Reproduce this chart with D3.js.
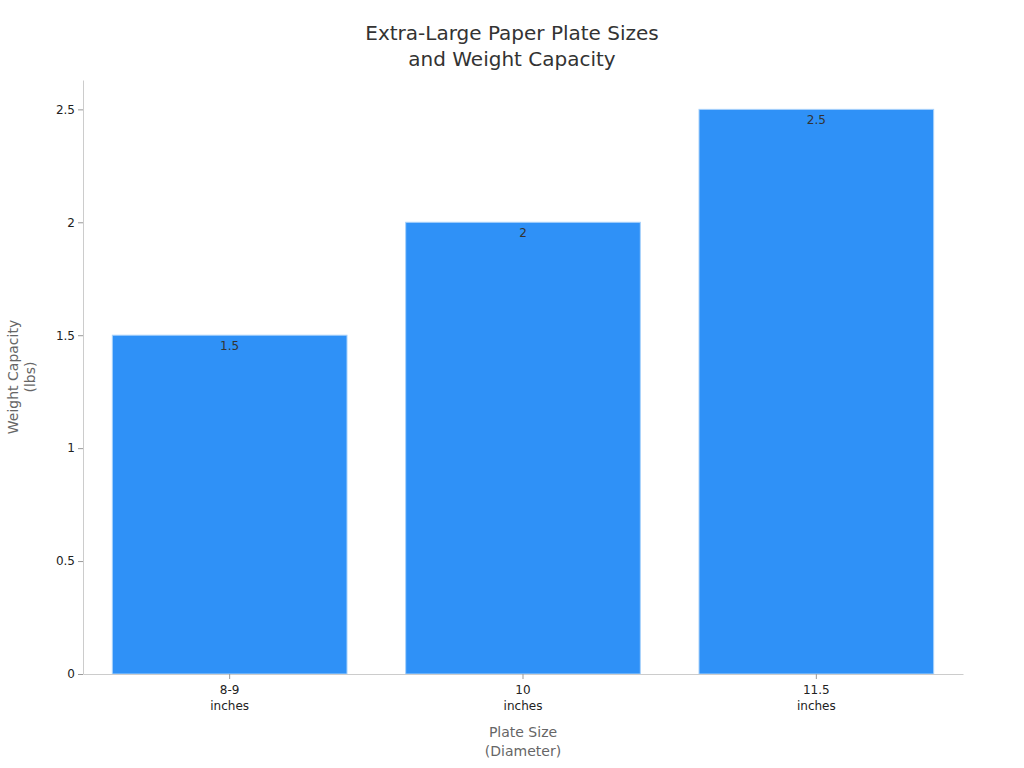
<!DOCTYPE html>
<html lang="en">
<head>
  <meta charset="UTF-8">
  <title>Extra-Large Paper Plate Sizes</title>
  <style>
    body { margin: 0; background: #fff; }
    svg { font-family: 'DejaVu Sans', sans-serif; }
  </style>
</head>
<body>
  <svg class="bar-chart"></svg>
  <script src="https://cdn.jsdelivr.net/npm/d3@7"></script>
  <script>
    let sizes = [['8-9', 'inches'], ['10', 'inches'], ['11.5', 'inches']]
    let capacity = [1.5, 2, 2.5]
    let yTicks = [0, 0.5, 1, 1.5, 2, 2.5]

    let svgWidth = 1024, svgHeight = 768
    let margin = { top: 80, right: 61, bottom: 94, left: 83 }
    let width = svgWidth - margin.left - margin.right
    let height = svgHeight - margin.top - margin.bottom

    let svg = d3.select('svg')
      .attr('width', svgWidth)
      .attr('height', svgHeight)

    // title
    svg.append('text')
      .attr('x', svgWidth / 2)
      .attr('text-anchor', 'middle')
      .attr('fill', '#333')
      .style('font-size', '20px')
      .selectAll('tspan')
      .data(['Extra-Large Paper Plate Sizes', 'and Weight Capacity'])
      .enter()
      .append('tspan')
      .attr('x', svgWidth / 2)
      .attr('y', (d, i) => 40 + i * 26)
      .text(d => d)

    let g = svg.append('g')
      .attr('transform', `translate(${margin.left},${margin.top})`)

    let x = d3.scaleBand()
      .domain(sizes.map(d => d[0]))
      .range([0, width])
      .paddingInner(0.2)
      .paddingOuter(0.1)

    let y = d3.scaleLinear()
      .domain([0, 2.63])
      .range([height, 0])

    // bars
    let bar = g.selectAll('.bar')
      .data(capacity)
      .enter()
      .append('g')

    bar.append('rect')
      .attr('x', (d, i) => x(sizes[i][0]))
      .attr('y', d => y(d))
      .attr('width', x.bandwidth())
      .attr('height', d => height - y(d))
      .attr('fill', '#2f91f7')
      .attr('stroke', '#a8d2fb')
      .attr('stroke-width', 1)

    bar.append('text')
      .attr('x', (d, i) => x(sizes[i][0]) + x.bandwidth() / 2)
      .attr('y', d => y(d) + 15)
      .attr('text-anchor', 'middle')
      .attr('fill', '#333')
      .style('font-size', '12px')
      .text(d => d)

    // y axis
    let yAxis = g.append('g')
      .call(d3.axisLeft(y).tickValues(yTicks).tickFormat(d3.format('')).tickSize(5).tickSizeOuter(0))
    yAxis.select('.domain').attr('stroke', '#ccc')
    yAxis.selectAll('.tick line').attr('stroke', '#999')
    yAxis.selectAll('.tick text').attr('fill', '#222').style('font-size', '12px')
      .style('font-family', 'DejaVu Sans')

    // x axis
    let xAxis = g.append('g')
      .attr('transform', `translate(0,${height})`)
      .call(d3.axisBottom(x).tickSize(5).tickSizeOuter(0))
    xAxis.select('.domain').attr('stroke', '#ccc')
    xAxis.selectAll('.tick line').attr('stroke', '#999')
    xAxis.selectAll('.tick text').remove()
    xAxis.selectAll('.tick').append('text')
      .attr('text-anchor', 'middle')
      .attr('fill', '#222')
      .style('font-size', '12px')
      .style('font-family', 'DejaVu Sans')
      .selectAll('tspan')
      .data(d => sizes.find(s => s[0] === d))
      .enter()
      .append('tspan')
      .attr('x', 0)
      .attr('y', (d, i) => 20 + i * 16)
      .text(d => d)

    // axis titles
    g.append('text')
      .attr('text-anchor', 'middle')
      .attr('fill', '#666')
      .style('font-size', '14px')
      .selectAll('tspan')
      .data(['Plate Size', '(Diameter)'])
      .enter()
      .append('tspan')
      .attr('x', width / 2)
      .attr('y', (d, i) => height + 63 + i * 19)
      .text(d => d)

    g.append('text')
      .attr('transform', `translate(${-margin.left + 18},${height / 2}) rotate(-90)`)
      .attr('text-anchor', 'middle')
      .attr('fill', '#666')
      .style('font-size', '14px')
      .selectAll('tspan')
      .data(['Weight Capacity', '(lbs)'])
      .enter()
      .append('tspan')
      .attr('x', 0)
      .attr('y', (d, i) => i * 17)
      .text(d => d)
  </script>
</body>
</html>
